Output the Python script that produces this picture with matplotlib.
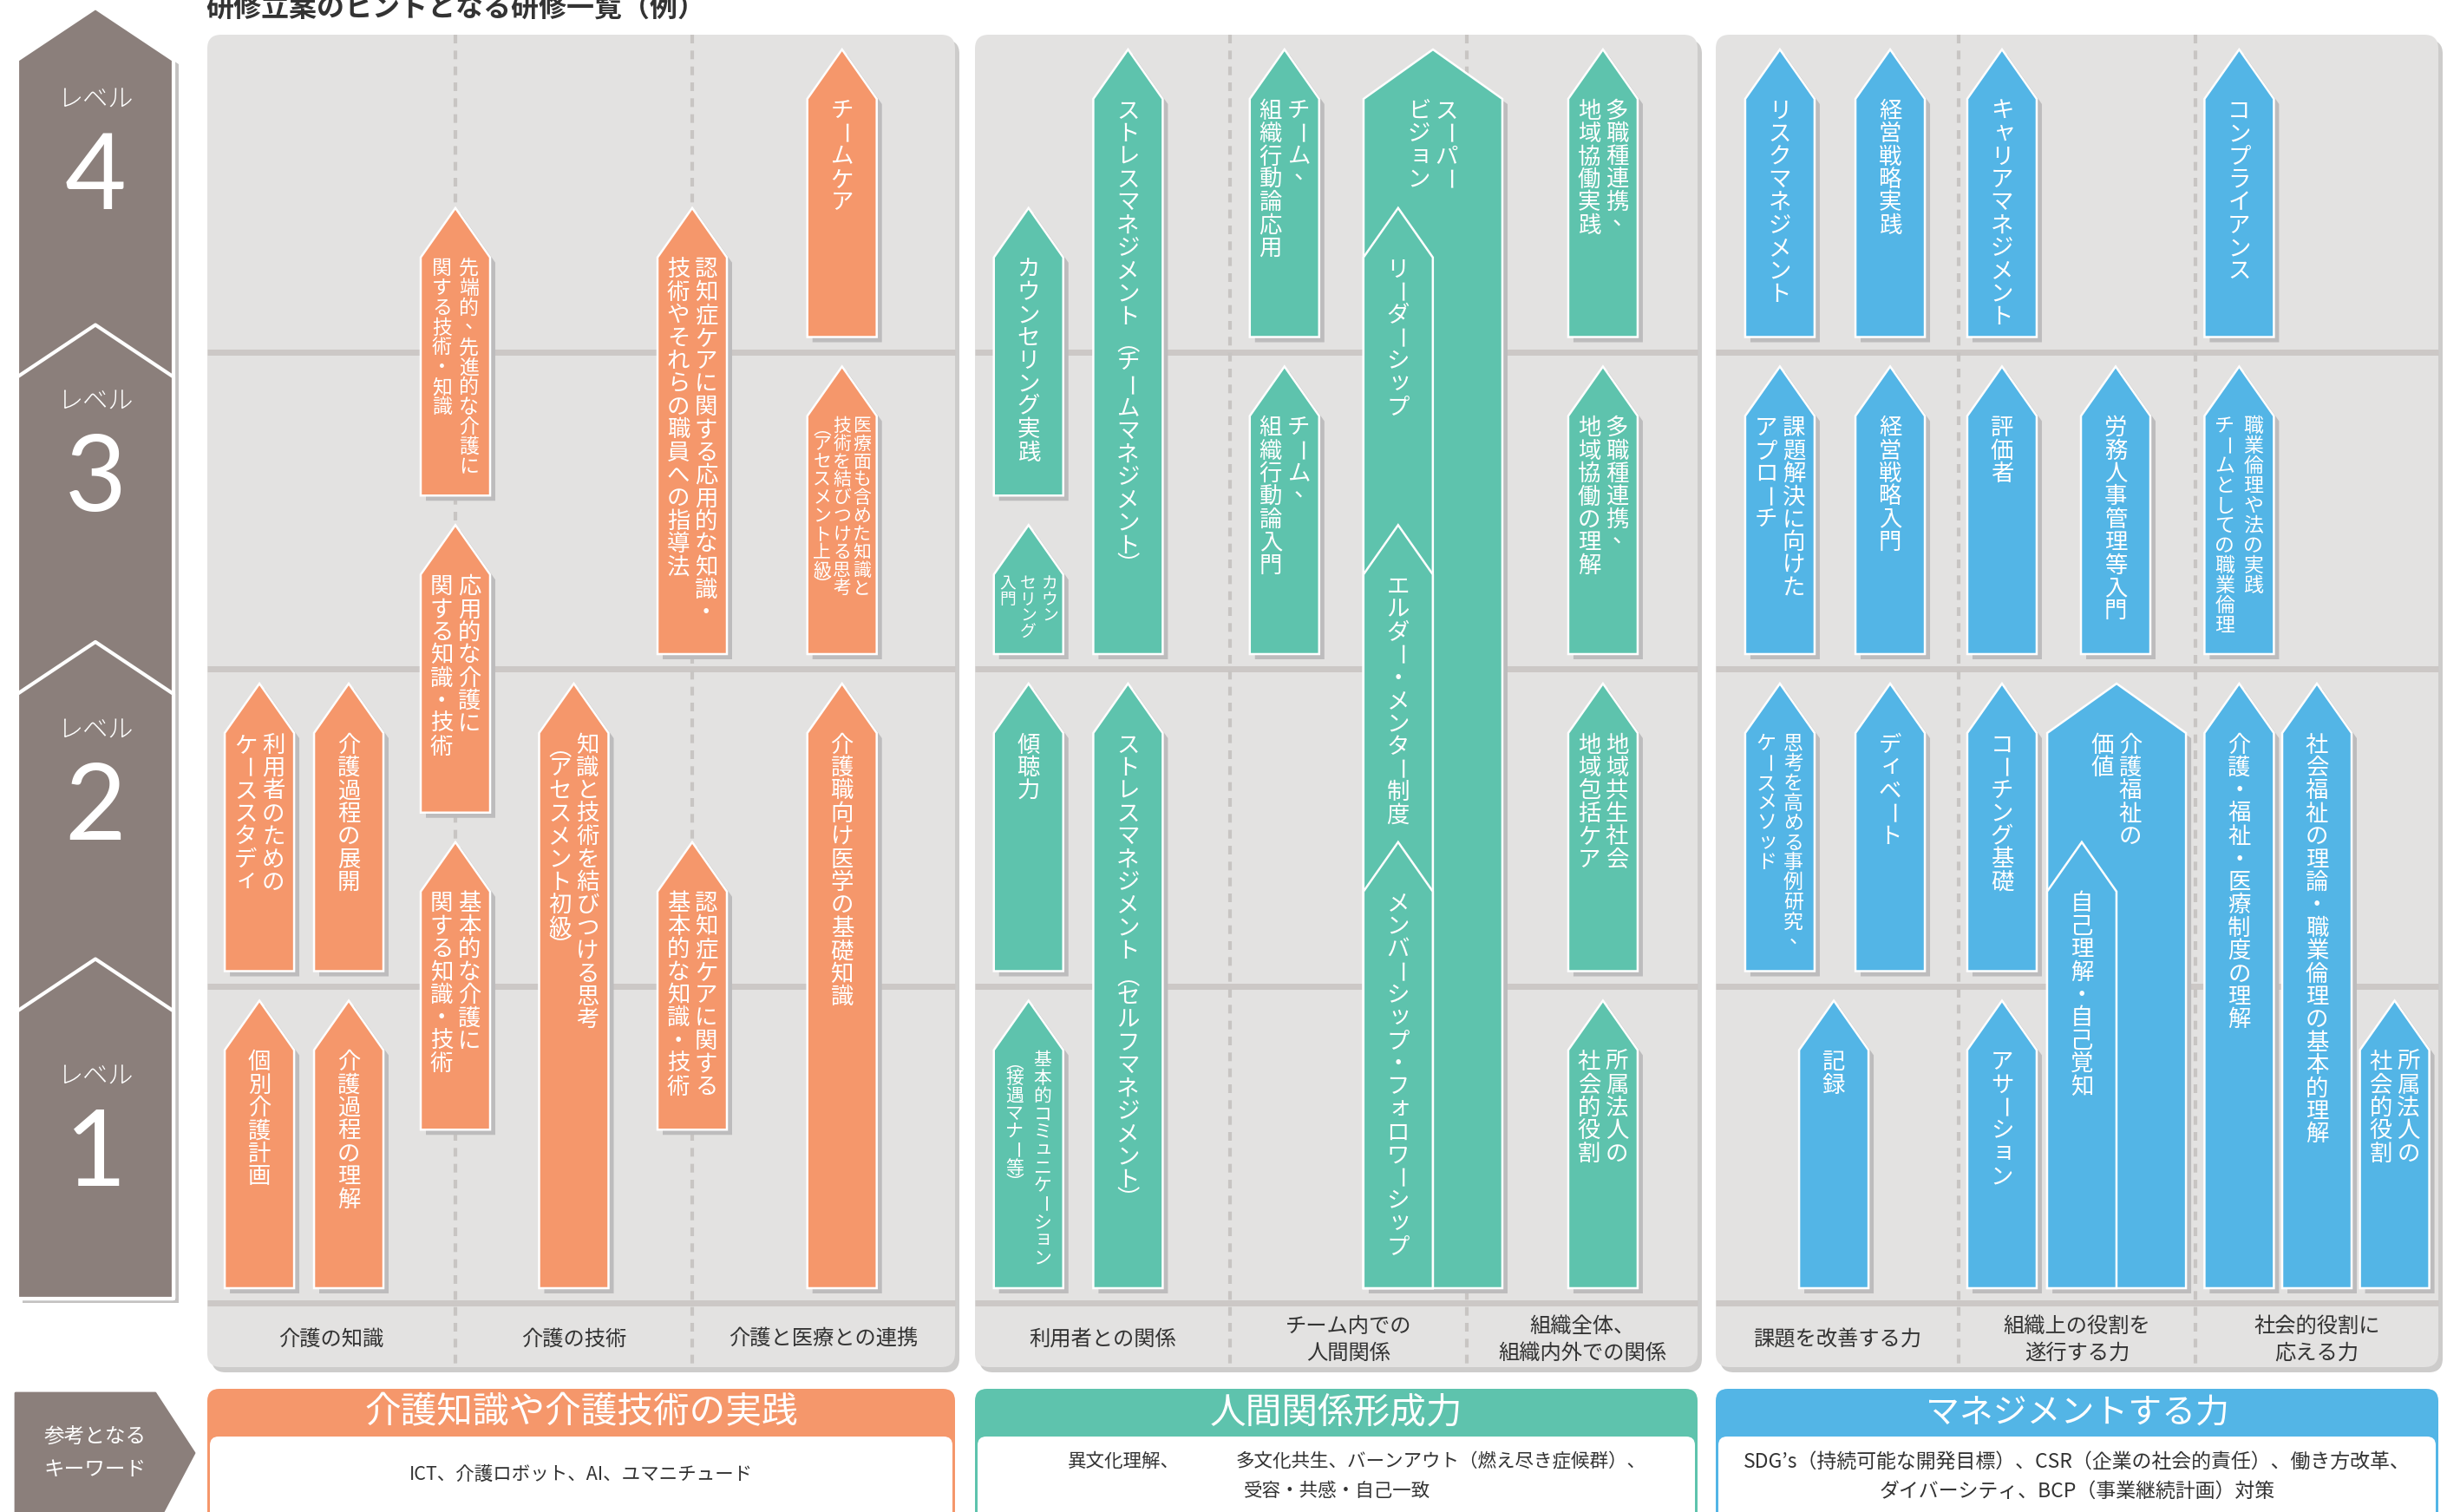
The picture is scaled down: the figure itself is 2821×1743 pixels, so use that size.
import matplotlib
matplotlib.use('Agg')
import matplotlib.pyplot as plt
from matplotlib.patches import Polygon, FancyBboxPatch

plt.rcParams['font.family'] = ['Noto Sans CJK JP', 'DejaVu Sans']

# ---------------- data ----------------
title = '研修立案のヒントとなる研修一覧（例）'
levels = [4, 3, 2, 1]
level_word = 'レベル'

panel_titles = ['介護知識や介護技術の実践', '人間関係形成力', 'マネジメントする力']
categories_care = ['介護の知識', '介護の技術', '介護と医療との連携']
categories_human = ['利用者との関係', 'チーム内での\n人間関係', '組織全体、\n組織内外での関係']
categories_mgmt = ['課題を改善する力', '組織上の役割を\n遂行する力', '社会的役割に\n応える力']
keyword_badge = ['参考となる', 'キーワード']
keywords_care = ['ICT、介護ロボット、AI、ユマニチュード']
keywords_human = ['異文化理解、', '多文化共生、バーンアウト（燃え尽き症候群）、', '受容・共感・自己一致']
keywords_mgmt = ['SDG’s（持続可能な開発目標）、CSR（企業の社会的責任）、働き方改革、',
                 'ダイバーシティ、BCP（事業継続計画）対策']

# training items: label (columns split by \n, read right to left), level range lo..hi
care_labels = ['利用者のための\nケーススタディ', '個別介護計画', '介護過程の展開', '介護過程の理解',
               '先端的、先進的な介護に\n関する技術・知識', '応用的な介護に\n関する知識・技術',
               '基本的な介護に\n関する知識・技術', '知識と技術を結びつける思考\n（アセスメント初級）',
               '認知症ケアに関する応用的な知識・\n技術やそれらの職員への指導法',
               '認知症ケアに関する\n基本的な知識・技術', 'チームケア',
               '医療面も含めた知識と\n技術を結びつける思考\n（アセスメント上級）', '介護職向け医学の基礎知識']
care_lo = [1, 0, 1, 0, 2.5, 1.5, 0.5, 0, 2, 0.5, 3, 2, 0]
care_hi = [2, 1, 2, 1, 3.5, 2.5, 1.5, 2, 3.5, 1.5, 4, 3, 2]

human_labels = ['カウンセリング実践', 'カウン\nセリング\n入門', '傾聴力', '基本的コミュニケーション\n（接遇マナー等）',
                'ストレスマネジメント（チームマネジメント）', 'ストレスマネジメント（セルフマネジメント）',
                'チーム、\n組織行動論応用', 'チーム、\n組織行動論入門', 'スーパー\nビジョン',
                'リーダーシップ', 'エルダー・メンター制度', 'メンバーシップ・フォロワーシップ',
                '多職種連携、\n地域協働実践', '多職種連携、\n地域協働の理解', '地域共生社会\n地域包括ケア',
                '所属法人の\n社会的役割']
human_lo = [2.5, 2, 1, 0, 2, 0, 3, 2, 0, 0, 0, 0, 3, 2, 1, 0]
human_hi = [3.5, 2.5, 2, 1, 4, 2, 4, 3, 4, 3.5, 2.5, 1.5, 4, 3, 2, 1]

mgmt_labels = ['リスクマネジメント', '経営戦略実践', 'キャリアマネジメント', 'コンプライアンス',
               '課題解決に向けた\nアプローチ', '経営戦略入門', '評価者', '労務人事管理等入門',
               '職業倫理や法の実践\nチームとしての職業倫理', '思考を高める事例研究、\nケースメソッド',
               'ディベート', '記録', 'コーチング基礎', 'アサーション', '介護福祉の\n価値',
               '自己理解・自己覚知', '介護・福祉・医療制度の理解', '社会福祉の理論・職業倫理の基本的理解',
               '所属法人の\n社会的役割']
mgmt_lo = [3, 3, 3, 3, 2, 2, 2, 2, 2, 1, 1, 0, 1, 0, 0, 0, 0, 0, 0]
mgmt_hi = [4, 4, 4, 4, 3, 3, 3, 3, 3, 2, 2, 1, 2, 1, 2, 1.5, 2, 2, 1]

# ---------------- layout (positions / sizes / styles) ----------------
care_col = [0.21, 0.21, 0.57, 0.57, 1.0, 1.0, 1.0, 1.5, 2.0, 2.0, 2.57, 2.57, 2.57]
human_col = [0.21, 0.21, 0.21, 0.21, 0.60, 0.60, 1.23, 1.23, 1.857, 1.71, 1.71, 1.71, 2.59, 2.59, 2.59, 2.59]
mgmt_col = [0.264, 0.718, 1.183, 2.18, 0.264, 0.718, 1.183, 1.663, 2.18, 0.264, 0.718, 0.486,
            1.183, 1.183, 1.667, 1.52, 2.18, 2.50, 2.82]
wide_items = {(1, 8), (2, 14)}
nested_items = {(1, 9), (1, 10), (1, 11), (2, 15)}
font_override = {(0, 4): (16.5, 31), (0, 11): (15, 23), (1, 1): (13.5, 24.5), (1, 3): (15, 32),
                 (2, 8): (16.5, 33), (2, 9): (16.5, 31)}
DEFAULT_FS, DEFAULT_GAP = 19, 32
header_fs = [30, 30, 28]

W, H = 2821, 1743
fig = plt.figure(figsize=(W / 100, H / 100), dpi=100)
ax = fig.add_axes([0, 0, 1, 1])
ax.set_xlim(0, W)
ax.set_ylim(H, 0)
ax.axis('off')
fig.patch.set_facecolor('white')

PANEL_TOP, PANEL_BOT = 40, 1576
ROW0, ROW_H = 40, 365.5
panel_bounds = [[239, 525, 798, 1101], [1124, 1418, 1691, 1957], [1978, 2258, 2531, 2811]]
colors = ['#F5976B', '#5EC3AD', '#53B5E6']
BROWN = '#8B7F7B'
PANEL_BG = '#E3E2E1'
SEP = '#CCC8C6'
TXT = '#333333'


def yb(v):
    return ROW0 + (4 - v) * ROW_H


def col_x(p, c):
    b = panel_bounds[p]
    k = min(int(c), 2)
    return b[k] + (c - k) * (b[k + 1] - b[k])


ROT = set('ー－―〜')
VERT = {'（': '︵', '）': '︶', '(': '︵', ')': '︶'}
PUNCT = set('、。')
SMALL = set('ァィゥェォッャュョ')


def vtext(xc, ytop, text, fs, gap, color='white', z=6):
    cols = text.split('\n')
    n = len(cols)
    px = fs * 100 / 72
    for j, col in enumerate(cols):
        x = xc + ((n - 1) / 2 - j) * gap
        for i, ch in enumerate(col):
            y = ytop + (i + 0.5) * px
            dx = dy = 0
            rot = 0
            if ch in ROT:
                rot = -90
            elif ch in VERT:
                dy = 0.18 * px if ch in '（(' else -0.18 * px
                ch = VERT[ch]
            elif ch in PUNCT:
                dx, dy = 0.3 * px, -0.3 * px
            elif ch in SMALL:
                dx, dy = 0.08 * px, -0.1 * px
            ax.text(x + dx, y + dy, ch, fontsize=fs, color=color, ha='center', va='center',
                    rotation=rot, zorder=z)


def draw_arrow(xc, lo, hi, color, wide=False, nested=False):
    w = 160 if wide else 80
    top = yb(hi) + 17
    bot = yb(lo) - 17
    sh = top + 57
    pts = [(xc - w / 2, bot), (xc - w / 2, sh), (xc, top), (xc + w / 2, sh), (xc + w / 2, bot)]
    if not nested:
        ax.add_patch(Polygon([(x + 6, y + 6) for x, y in pts], closed=True, fc='#BDBCBD',
                             ec='none', zorder=3))
    ax.add_patch(Polygon(pts, closed=True, fc=color, ec='white', lw=1.8, joinstyle='miter', zorder=4))
    return sh


# ---------------- title ----------------
ax.text(237, 10, title, fontsize=23, fontweight='bold', color=TXT, ha='left', va='center')

# ---------------- level column ----------------
XL, XR, XM, LV_BOT = 20, 200, 110, 1497
level_num_offset = [154, 137, 150, 184]


def level_pts(L):
    peak = yb(L) - 31
    sh = peak + 60
    return [(XL, LV_BOT), (XL, sh), (XM, peak), (XR, sh), (XR, LV_BOT)]


ax.add_patch(Polygon([(x + 6, y + 5) for x, y in level_pts(4)], closed=True, fc='#C4C2C1',
                     ec='none', zorder=1))
for i, L in enumerate(levels):
    ax.add_patch(Polygon(level_pts(L), closed=True, fc=BROWN, ec='white', lw=3, joinstyle='round',
                         zorder=2 + i * 0.01))
    yn = yb(L) + level_num_offset[i]
    ax.text(XM, yn + 12, str(L), fontsize=88, color='white', ha='center', va='center',
            family=['Lato', 'Noto Sans', 'DejaVu Sans'], fontweight='normal', zorder=3)
    ax.text(XM, yn - 79, level_word, fontsize=21, color='white', ha='center', va='center',
            fontweight='light', zorder=3)

# ---------------- panels ----------------
all_labels = [care_labels, human_labels, mgmt_labels]
all_lo = [care_lo, human_lo, mgmt_lo]
all_hi = [care_hi, human_hi, mgmt_hi]
all_col = [care_col, human_col, mgmt_col]
all_cats = [categories_care, categories_human, categories_mgmt]

for p in range(3):
    b = panel_bounds[p]
    x0, x1 = b[0], b[-1]
    ax.add_patch(FancyBboxPatch((x0 + 5, PANEL_TOP + 6), x1 - x0, PANEL_BOT - PANEL_TOP,
                                boxstyle='round,pad=0,rounding_size=16', fc='#CDCCCB', ec='none', zorder=0))
    ax.add_patch(FancyBboxPatch((x0, PANEL_TOP), x1 - x0, PANEL_BOT - PANEL_TOP,
                                boxstyle='round,pad=0,rounding_size=16', fc=PANEL_BG, ec='none', zorder=1))
    for v in [3, 2, 1, 0]:
        ax.plot([x0, x1], [yb(v), yb(v)], color=SEP, lw=5, solid_capstyle='butt', zorder=2)
    for xb in b[1:-1]:
        ax.plot([xb, xb], [PANEL_TOP, PANEL_BOT], color='#C8C5C3', lw=3, ls=(0, (2.4, 2)), zorder=2)
    for k, cat in enumerate(all_cats[p]):
        ax.text((b[k] + b[k + 1]) / 2, 1544, cat, fontsize=17.5, color=TXT, ha='center', va='center',
                linespacing=1.25, multialignment='center', zorder=3)

    for i, lab in enumerate(all_labels[p]):
        key = (p, i)
        xc = col_x(p, all_col[p][i])
        sh = draw_arrow(xc, all_lo[p][i], all_hi[p][i], colors[p],
                        wide=key in wide_items, nested=key in nested_items)
        fs, gap = font_override.get(key, (DEFAULT_FS, DEFAULT_GAP))
        vtext(xc, sh + 1, lab, fs, gap)

    # header band + keyword box
    ax.add_patch(FancyBboxPatch((x0, 1601), x1 - x0, 220, boxstyle='round,pad=0,rounding_size=14',
                                fc=colors[p], ec='none', zorder=1))
    ax.add_patch(FancyBboxPatch((x0 + 3, 1656), x1 - x0 - 6, 220, boxstyle='round,pad=0,rounding_size=10',
                                fc='white', ec='none', zorder=2))
    ax.text((x0 + x1) / 2, 1629, panel_titles[p], fontsize=header_fs[p], color='white', ha='center',
            va='center', zorder=3)

# keywords
ax.text(sum(panel_bounds[0][::3]) / 2, 1700, keywords_care[0], fontsize=15.5, color=TXT,
        ha='center', va='center', zorder=3)
ax.text(1231, 1685, keywords_human[0], fontsize=15.5, color=TXT, ha='left', va='center', zorder=3)
ax.text(1425, 1685, keywords_human[1], fontsize=15.5, color=TXT, ha='left', va='center', zorder=3)
ax.text(1434, 1719, keywords_human[2], fontsize=15.5, color=TXT, ha='left', va='center', zorder=3)
for j, line in enumerate(keywords_mgmt):
    ax.text(sum(panel_bounds[2][::3]) / 2, 1685 + 34 * j, line, fontsize=16.5, color=TXT,
            ha='center', va='center', zorder=3)

# keyword badge
ax.add_patch(Polygon([(18, 1606), (179, 1606), (224, 1675), (179, 1760), (18, 1760)], closed=True,
                     fc=BROWN, ec=BROWN, lw=2, joinstyle='round', zorder=2))
for j, line in enumerate(keyword_badge):
    ax.text(110, 1657 + 37 * j, line, fontsize=17, color='white', ha='center', va='center', zorder=3)

fig.savefig('out.png', dpi=100, facecolor='white')
